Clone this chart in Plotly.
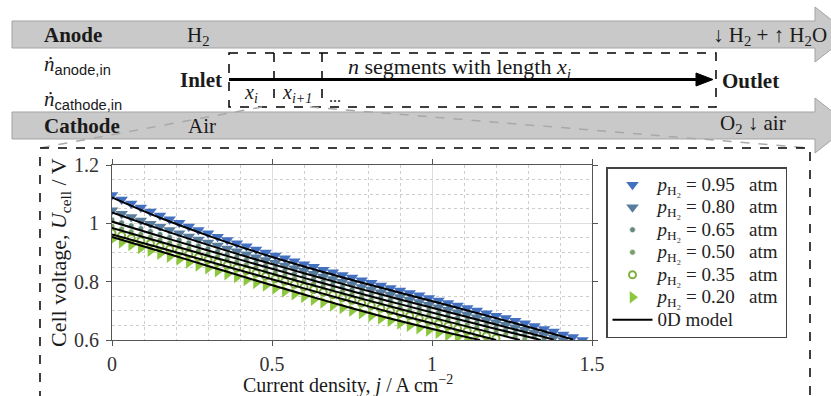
import plotly.graph_objects as go

W, H = 831, 396

# ---------------- data ----------------
j_data = [0.00, 0.03, 0.06, 0.09, 0.12, 0.15, 0.18, 0.21, 0.24, 0.27,
          0.30, 0.33, 0.36, 0.39, 0.42, 0.45, 0.48, 0.51, 0.54, 0.57,
          0.60, 0.63, 0.66, 0.69, 0.72, 0.75, 0.78, 0.81, 0.84, 0.87,
          0.90, 0.93, 0.96, 0.99, 1.02, 1.05, 1.08, 1.11, 1.14, 1.17,
          1.20, 1.23, 1.26, 1.29, 1.32, 1.35, 1.38, 1.41, 1.44, 1.47]

u_095 = [1.097, 1.082, 1.068, 1.054, 1.041, 1.027, 1.014, 1.002, 0.989, 0.977,
         0.966, 0.954, 0.943, 0.932, 0.921, 0.910, 0.900, 0.890, 0.880, 0.870,
         0.860, 0.851, 0.841, 0.832, 0.823, 0.814, 0.805, 0.796, 0.787, 0.778,
         0.770, 0.761, 0.753, 0.744, 0.735, 0.727, 0.718, 0.710, 0.701, 0.692,
         0.683, 0.675, 0.666, 0.657, 0.648, 0.638, 0.629, 0.619, 0.610, 0.600]
u_080 = [1.045, 1.033, 1.022, 1.010, 0.999, 0.988, 0.977, 0.966, 0.955, 0.945,
         0.934, 0.924, 0.914, 0.904, 0.894, 0.884, 0.874, 0.865, 0.855, 0.846,
         0.837, 0.827, 0.818, 0.809, 0.800, 0.791, 0.782, 0.773, 0.764, 0.756,
         0.747, 0.738, 0.730, 0.721, 0.712, 0.704, 0.695, 0.687, 0.678, 0.669,
         0.661, 0.652, 0.644, 0.635, 0.626, 0.618, 0.609, 0.600]
u_065 = [1.012, 1.002, 0.992, 0.982, 0.972, 0.962, 0.952, 0.943, 0.933, 0.923,
         0.913, 0.904, 0.894, 0.885, 0.875, 0.866, 0.856, 0.847, 0.838, 0.828,
         0.819, 0.810, 0.801, 0.792, 0.782, 0.773, 0.764, 0.756, 0.747, 0.738,
         0.729, 0.720, 0.712, 0.703, 0.694, 0.686, 0.677, 0.669, 0.660, 0.652,
         0.644, 0.635, 0.627, 0.619, 0.611, 0.603]
u_050 = [0.990, 0.981, 0.971, 0.962, 0.952, 0.943, 0.933, 0.924, 0.914, 0.905,
         0.895, 0.886, 0.877, 0.867, 0.858, 0.849, 0.839, 0.830, 0.821, 0.811,
         0.802, 0.793, 0.784, 0.775, 0.766, 0.757, 0.748, 0.739, 0.730, 0.721,
         0.712, 0.703, 0.695, 0.686, 0.677, 0.669, 0.660, 0.652, 0.644, 0.635,
         0.627, 0.619, 0.611, 0.603]
u_035 = [0.967, 0.958, 0.949, 0.940, 0.931, 0.921, 0.912, 0.903, 0.894, 0.884,
         0.875, 0.866, 0.856, 0.847, 0.838, 0.829, 0.819, 0.810, 0.801, 0.791,
         0.782, 0.773, 0.764, 0.755, 0.745, 0.736, 0.727, 0.718, 0.709, 0.700,
         0.691, 0.683, 0.674, 0.665, 0.656, 0.648, 0.639, 0.631, 0.622, 0.614,
         0.606]
u_020 = [0.945, 0.935, 0.926, 0.916, 0.906, 0.896, 0.886, 0.876, 0.866, 0.856,
         0.846, 0.836, 0.826, 0.816, 0.806, 0.796, 0.787, 0.777, 0.767, 0.757,
         0.748, 0.738, 0.729, 0.719, 0.710, 0.701, 0.692, 0.683, 0.674, 0.666,
         0.657, 0.649, 0.641, 0.633, 0.625, 0.617, 0.610, 0.602]

# 0D model curves
j_m095 = [0, 0.15, 0.30, 0.45, 0.60, 0.75, 0.90, 1.05, 1.20, 1.35, 1.44]
m095 = [1.089, 1.019, 0.958, 0.902, 0.852, 0.806, 0.762, 0.719, 0.675, 0.630, 0.602]
j_m080 = [0, 0.15, 0.30, 0.45, 0.60, 0.75, 0.90, 1.05, 1.20, 1.35, 1.38]
m080 = [1.037, 0.980, 0.926, 0.876, 0.829, 0.783, 0.739, 0.696, 0.653, 0.610, 0.601]
j_m065 = [0, 0.15, 0.30, 0.45, 0.60, 0.75, 0.90, 1.05, 1.20, 1.34]
m065 = [1.006, 0.956, 0.907, 0.860, 0.813, 0.767, 0.723, 0.680, 0.638, 0.600]
j_m050 = [0, 0.15, 0.30, 0.45, 0.60, 0.75, 0.90, 1.05, 1.20, 1.275]
m050 = [0.984, 0.937, 0.889, 0.843, 0.796, 0.751, 0.706, 0.663, 0.621, 0.600]
j_m035 = [0, 0.15, 0.30, 0.45, 0.60, 0.75, 0.90, 1.05, 1.20]
m035 = [0.962, 0.916, 0.870, 0.824, 0.777, 0.731, 0.686, 0.643, 0.600]
j_m020 = [0, 0.15, 0.30, 0.45, 0.60, 0.75, 0.90, 1.05, 1.15]
m020 = [0.953, 0.904, 0.854, 0.804, 0.756, 0.709, 0.665, 0.625, 0.600]

pressures = ["0.95", "0.80", "0.65", "0.50", "0.35", "0.20"]
x_ticks = [0, 0.5, 1, 1.5]
x_ticktext = ["0", "0.5", "1", "1.5"]
y_ticks = [0.6, 0.8, 1.0, 1.2]
y_ticktext = ["0.6", "0.8", "1", "1.2"]

# ---------------- styles ----------------
SERIF = "Liberation Serif"
colors = ["#4470c0", "#587c9e", "#66897f", "#78a068", "#80b040", "#8dc63f"]
symbols = ["triangle-down", "triangle-down", "circle", "circle", "circle-open", "triangle-right"]
sizes = [11, 11, 6, 6, 7, 11]

series = [u_095, u_080, u_065, u_050, u_035, u_020]
models = [(j_m095, m095), (j_m080, m080), (j_m065, m065),
          (j_m050, m050), (j_m035, m035), (j_m020, m020)]

LEG = "<span style='font-size:19px'>"

fig = go.Figure()
for i, (p, u) in enumerate(zip(pressures, series)):
    mk = dict(symbol=symbols[i], size=sizes[i], color=colors[i])
    if symbols[i] == "circle":
        mk["line"] = dict(color="white", width=0.8)
    elif symbols[i] == "circle-open":
        mk["line"] = dict(color=colors[i], width=2)
    fig.add_trace(go.Scatter(
        x=j_data[:len(u)], y=u, mode="markers", marker=mk,
        name=LEG + "<i>p</i><sub>H₂</sub> = " + p + "\u00a0\u00a0\u00a0atm</span>",
        legendrank=i + 1))

for i, (jm, vm) in enumerate(models):
    fig.add_trace(go.Scatter(
        x=jm, y=vm, mode="lines", line=dict(color="black", width=2, shape="spline"),
        name=LEG + "0D model</span>", legendgroup="model",
        showlegend=(i == 0), legendrank=100))

# ---------------- pixel helpers for layout ----------------
def px(x):
    return x / W

def py(y):
    return 1 - y / H

def path(points, close=True):
    s = "M " + " L ".join(f"{px(a):.5f},{py(b):.5f}" for a, b in points)
    return s + (" Z" if close else "")

shapes = []
# Anode & cathode arrows
for top, bot, htop, hbot in [(21, 48, 7, 62), (112, 139, 98, 153)]:
    mid = (top + bot) / 2
    shapes.append(dict(type="path", xref="paper", yref="paper", layer="below",
                       path=path([(12, top), (815, top), (815, htop), (850, mid),
                                  (815, hbot), (815, bot), (12, bot)]),
                       fillcolor="#c9c9c9", line=dict(color="#a3a3a3", width=1)))
# segments box
shapes.append(dict(type="rect", xref="paper", yref="paper",
                   x0=px(229), x1=px(716), y0=py(53), y1=py(107),
                   line=dict(color="black", width=1.5, dash="dash")))
for xv in [274, 322]:
    shapes.append(dict(type="line", xref="paper", yref="paper",
                       x0=px(xv), x1=px(xv), y0=py(53), y1=py(107),
                       line=dict(color="black", width=1.5, dash="dash")))
# main flow arrow
shapes.append(dict(type="line", xref="paper", yref="paper",
                   x0=px(229), x1=px(700), y0=py(79.5), y1=py(79.5),
                   line=dict(color="black", width=3)))
shapes.append(dict(type="path", xref="paper", yref="paper",
                   path=path([(696, 73), (713, 79.5), (696, 86)]),
                   fillcolor="black", line=dict(color="black", width=1)))
# gray zoom connectors
shapes.append(dict(type="line", xref="paper", yref="paper",
                   x0=px(262), y0=py(107), x1=px(40), y1=py(148),
                   line=dict(color="#a8a8a8", width=1.5, dash="dash")))
shapes.append(dict(type="line", xref="paper", yref="paper",
                   x0=px(310), y0=py(107), x1=px(810), y1=py(148),
                   line=dict(color="#a8a8a8", width=1.5, dash="dash")))
# big dashed frame
shapes.append(dict(type="path", xref="paper", yref="paper",
                   path=path([(40, 400), (40, 148), (810, 148), (810, 400)], close=False),
                   line=dict(color="black", width=1.5, dash="dash")))

TXT = "#1a1a1a"
def ann(text, x, y, size=21, xanchor="left", **kw):
    d = dict(text=text, x=px(x), y=py(y), xref="paper", yref="paper",
             xanchor=xanchor, yanchor="middle", showarrow=False,
             font=dict(family=SERIF, size=size, color=TXT))
    d.update(kw)
    return d

SANS = "<span style='font-family:Liberation Sans'>"
annotations = [
    ann("<b>Anode</b>", 42, 35),
    ann("H<sub>2</sub>", 185, 36),
    ann("↓ H<sub>2</sub> + ↑ H<sub>2</sub>O", 829, 36, xanchor="right"),
    ann("<i>ṅ</i><sub>" + SANS + "anode,in</span></sub>", 42, 65),
    ann("<b>Inlet</b>", 224, 80, xanchor="right"),
    ann("<i>n</i> segments with length <i>x<sub>i</sub></i>", 460, 68, size=22, xanchor="center"),
    ann("<i>x<sub>i</sub></i>", 251, 93, size=20, xanchor="center"),
    ann("<i>x<sub>i+1</sub></i>", 297, 93, size=20, xanchor="center"),
    ann("...", 327, 96, size=16),
    ann("<b>Outlet</b>", 720, 81),
    ann("<i>ṅ</i><sub>" + SANS + "cathode,in</span></sub>", 42, 100),
    ann("<b>Cathode</b>", 42, 126),
    ann("Air", 186, 126),
    ann("O<sub>2</sub> ↓ air", 788, 124, xanchor="right"),
    # axis titles
    ann("Current density, <i>j</i> / A cm<sup>−2</sup>", 348, 384, size=20, xanchor="center"),
    ann("Cell voltage, <i>U</i><sub>cell</sub> / V", 60, 253, size=22, xanchor="center",
        textangle=-90),
]

axis_common = dict(
    showline=True, linecolor="#555555", linewidth=1.2, mirror="allticks",
    ticks="outside", ticklen=5, tickcolor="#555555", tickwidth=1,
    showgrid=True, gridcolor="#dedede", gridwidth=1, zeroline=False,
    automargin=False,
    tickfont=dict(family=SERIF, size=20, color="#333333"),
)

fig.update_layout(
    width=W, height=H,
    margin=dict(l=0, r=0, t=0, b=0, pad=0, autoexpand=False),
    paper_bgcolor="white", plot_bgcolor="white",
    xaxis=dict(domain=[px(112), px(592)], range=[0, 1.5],
               tickvals=x_ticks, ticktext=x_ticktext, ticklabelstandoff=1,
               minor=dict(dtick=0.1, showgrid=True, gridcolor="#cdcdcd",
                          griddash="dot", gridwidth=1),
               **axis_common),
    yaxis=dict(domain=[py(340), py(165)], range=[0.6, 1.2],
               tickvals=y_ticks, ticktext=y_ticktext, ticklabelstandoff=3,
               minor=dict(dtick=0.05, showgrid=True, gridcolor="#cdcdcd",
                          griddash="dot", gridwidth=1),
               **axis_common),
    legend=dict(x=px(606), y=py(167), xanchor="left", yanchor="top",
                bordercolor="#444444", borderwidth=1.5, bgcolor="white",
                font=dict(family=SERIF, size=15, color="#222222"),
                tracegroupgap=0, itemwidth=40),
    shapes=shapes,
    annotations=annotations,
)

fig.write_html("out.html")
